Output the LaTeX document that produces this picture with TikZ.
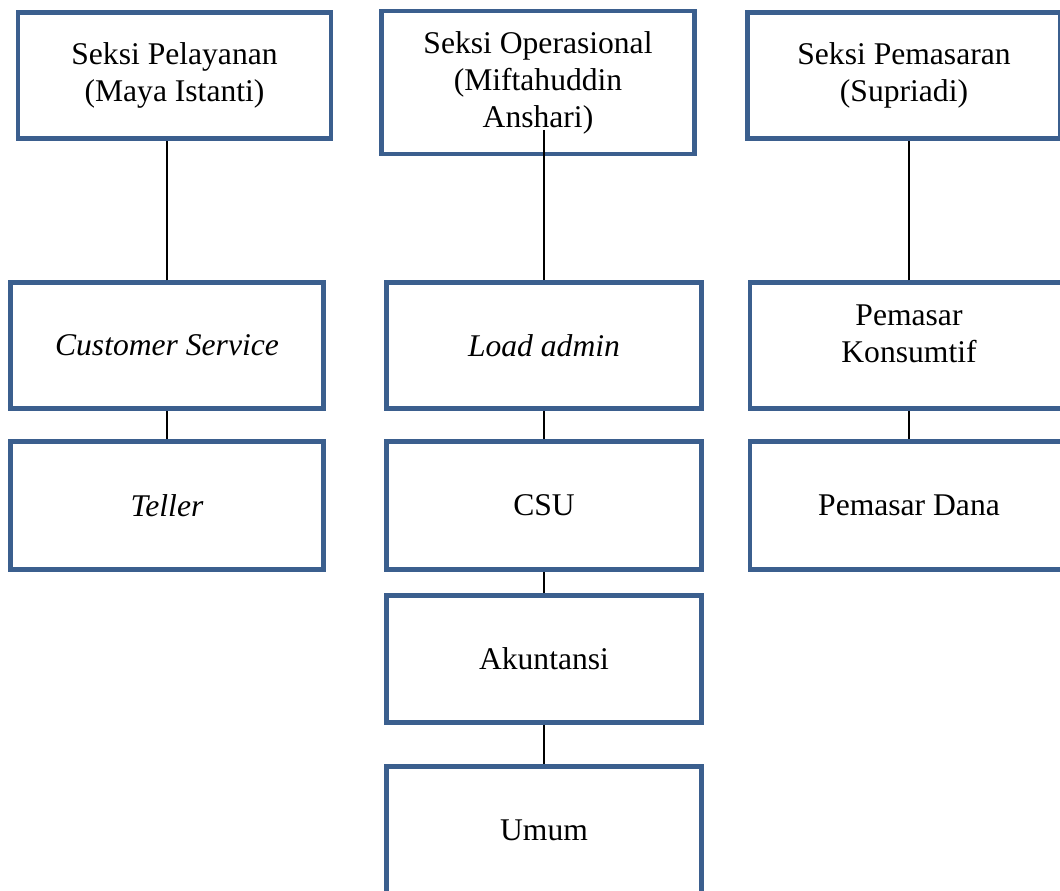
\documentclass[tikz,border=0pt]{standalone}
\usepackage{fontspec}
\setmainfont{Liberation Serif}
\definecolor{boxblue}{HTML}{3B5F8E}
\begin{document}
\begin{tikzpicture}[x=1pt,y=-1pt]
  \tikzset{
    unitbox/.style={draw=boxblue,line width=4.5pt,fill=white,rectangle,
      align=center,inner sep=0pt,font=\fontsize{31.6}{37}\selectfont},
    link/.style={draw=black,line width=1.8pt}
  }
  \useasboundingbox (0,0) rectangle (1060,891);
  \clip (0,0) rectangle (1060,891);

    %SEKSI PELAYANAN
    \node[unitbox,minimum width=313pt,minimum height=126pt] (pel) at (174.5,75.5) {Seksi Pelayanan\\(Maya Istanti)};
    \node[unitbox,minimum width=313pt,minimum height=126pt] (cs) at (167,345.5) {\itshape Customer Service};
    \node[unitbox,minimum width=313pt,minimum height=128pt] (tel) at (167,505.5) {\itshape Teller};

    %SEKSI OPERASIONAL
    \node[unitbox,minimum width=313pt,minimum height=143pt] (ops) at (538,82.5) {Seksi Operasional\\(Miftahuddin\\Anshari)};
    \node[unitbox,minimum width=315pt,minimum height=126pt] (load) at (544,345.5) {\itshape Load admin};
    \node[unitbox,minimum width=315pt,minimum height=128pt] (csu) at (544,505.5) {CSU};
    \node[unitbox,minimum width=315pt,minimum height=127pt] (akun) at (544,659) {Akuntansi};
    \node[unitbox,minimum width=315pt,minimum height=127pt] (umum) at (544,830) {Umum};

    %SEKSI PEMASARAN
    \node[unitbox,minimum width=313pt,minimum height=126pt] (pem) at (904,75.5) {Seksi Pemasaran\\(Supriadi)};
    \node[unitbox,minimum width=318pt,minimum height=126pt,text depth=23pt] (kons) at (909,345.5) {Pemasar\\Konsumtif};
    \node[unitbox,minimum width=318pt,minimum height=128pt] (dana) at (909,505.5) {Pemasar Dana};

    %LINKS
    \coordinate (opsline) at (544,130);
    \draw[link] (cs.north) -- (cs.north |- pel.south);
    \draw[link] (opsline) -- (load.north);
    \draw[link] (kons.north) -- (kons.north |- pem.south);
    \foreach \a/\b in {cs/tel,load/csu,csu/akun,akun/umum,kons/dana} {
      \draw[link] (\a.south) -- (\b.north) ;
    }
  \end{tikzpicture}
\end{document}
